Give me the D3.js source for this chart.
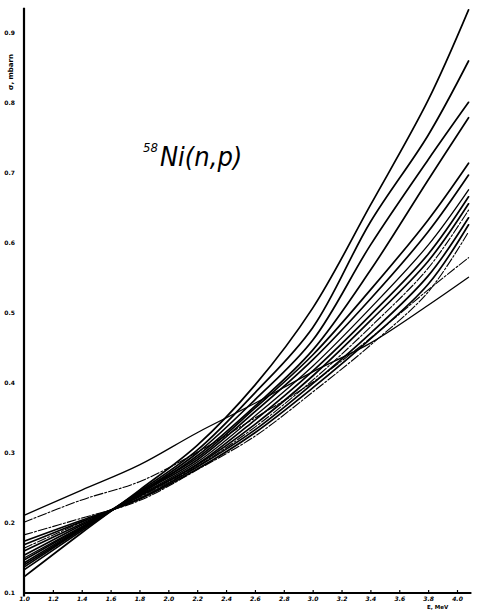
<!DOCTYPE html>
<html>
<head>
<meta charset="utf-8">
<script src="https://cdn.jsdelivr.net/npm/d3@7"></script>
<style>
  body { margin: 0; background: #fff; }
  svg { display: block; }
</style>
</head>
<body>
<svg id="fig" width="489" height="611"></svg>
<script>
const energies = [1.0, 1.4, 1.8, 2.2, 2.6, 3.0, 3.4, 3.8, 4.08];

// evaluated excitation curves
const curve01 = [1.11, 1.47, 1.83, 2.29, 2.71, 3.16, 3.57, 4.11, 4.51];
const curve02 = [1.01, 1.33, 1.59, 2.01, 2.50, 3.01, 3.64, 4.33, 4.79];
const curve03 = [0.83, 1.07, 1.32, 1.76, 2.24, 2.87, 3.54, 4.30, 5.16];
const curve04 = [0.74, 1.04, 1.34, 1.77, 2.29, 2.93, 3.63, 4.41, 5.26];
const curve05 = [0.69, 1.02, 1.35, 1.80, 2.33, 2.99, 3.71, 4.53, 5.36];
const curve06 = [0.64, 1.01, 1.37, 1.81, 2.37, 3.04, 3.80, 4.64, 5.47];
const curve07 = [0.60, 0.99, 1.38, 1.83, 2.41, 3.10, 3.89, 4.74, 5.56];
const curve08 = [0.54, 0.97, 1.39, 1.84, 2.47, 3.17, 3.97, 4.84, 5.66];
const curve09 = [0.50, 0.95, 1.40, 1.87, 2.53, 3.24, 4.07, 4.97, 5.76];
const curve10 = [0.43, 0.93, 1.42, 1.90, 2.59, 3.33, 4.20, 5.16, 5.97];
const curve11 = [0.37, 0.91, 1.44, 1.93, 2.64, 3.40, 4.33, 5.33, 6.14];
const curve12 = [0.47, 0.94, 1.41, 1.96, 2.67, 3.47, 4.61, 5.90, 6.79];
const curve13 = [0.40, 0.92, 1.43, 2.00, 2.76, 3.61, 4.97, 6.19, 7.01];
const curve14 = [0.33, 0.89, 1.45, 2.04, 2.86, 3.79, 5.30, 6.54, 7.60];
const curve15 = [0.23, 0.86, 1.47, 2.11, 2.97, 4.07, 5.54, 7.04, 8.33];

const curves = [curve01, curve02, curve03, curve04, curve05, curve06, curve07, curve08,
                curve09, curve10, curve11, curve12, curve13, curve14, curve15];
// line style per curve
const curveStyles = ["thin", "dashdot", "dashdot", "solid", "solid", "dashdot", "solid", "solid",
                     "thin", "solid", "solid", "solid", "solid", "solid", "solid"];

const xTicks = d3.range(16).map(i => 1.0 + i * 0.2);
const xTickLabels = xTicks.map(v => v.toFixed(1));
const yTicks = [0, 1, 2, 3, 4, 5, 6, 7, 8];
const yTickLabels = ["0.1", "0.2", "0.3", "0.4", "0.5", "0.6", "0.7", "0.8", "0.9"];

const svg = d3.select("#fig");

const x = d3.scaleLinear().domain([1.0, 4.0]).range([24, 457]);
const y = d3.scaleLinear().domain([0, 8]).range([593, 33]);

const xAxis = d3.axisBottom(x)
    .tickValues(xTicks)
    .tickFormat((d, i) => xTickLabels[i])
    .tickSize(3)
    .tickPadding(1);

const yAxis = d3.axisLeft(y)
    .tickValues(yTicks)
    .tickFormat((d, i) => yTickLabels[i])
    .tickSize(0)
    .tickPadding(9);

const gx = svg.append("g")
    .attr("transform", `translate(0,${593})`)
    .call(xAxis);
gx.select(".domain").remove();
gx.selectAll("line").attr("stroke", "#000").attr("stroke-width", 1.2).attr("transform", "translate(0,-3)");
gx.selectAll("text")
    .attr("fill", "#000")
    .style("font-family", "DejaVu Sans")
    .style("font-size", "6px")
    .style("font-weight", "bold")
    .style("font-style", "italic");

const gy = svg.append("g")
    .attr("transform", `translate(24,0)`)
    .call(yAxis);
gy.select(".domain").remove();
gy.selectAll("text")
    .attr("fill", "#000")
    .style("font-family", "DejaVu Sans")
    .style("font-size", "6px")
    .style("font-weight", "bold");

// axis lines
svg.append("line")
    .attr("x1", x(1.0)).attr("x2", x(1.0))
    .attr("y1", y(8.36)).attr("y2", y(-0.05))
    .attr("stroke", "#000").attr("stroke-width", 2.2);
svg.append("line")
    .attr("x1", x(1.0)).attr("x2", x(4.1))
    .attr("y1", y(0)).attr("y2", y(0))
    .attr("stroke", "#000").attr("stroke-width", 1.8);

// axis titles
svg.append("text")
    .attr("transform", `translate(${13},${72}) rotate(-90)`)
    .attr("text-anchor", "middle")
    .text("σ, mbarn")
    .attr("fill", "#000")
    .style("font-family", "DejaVu Sans")
    .style("font-size", "7px")
    .style("font-weight", "bold");

svg.append("text")
    .attr("x", 427)
    .attr("y", 609)
    .text("E, MeV")
    .attr("fill", "#000")
    .style("font-family", "DejaVu Sans")
    .style("font-size", "5.5px")
    .style("font-weight", "bold");

// curves
const line = d3.line()
    .x((d, i) => x(energies[i]))
    .y(d => y(d))
    .curve(d3.curveCatmullRom.alpha(0.5));

curves.forEach((c, k) => {
    const style = curveStyles[k];
    svg.append("path")
        .datum(c)
        .attr("d", line)
        .attr("fill", "none")
        .attr("stroke", "#000")
        .attr("stroke-width", style === "solid" ? 1.7 : (style === "thin" ? 1.3 : 1.1))
        .attr("stroke-dasharray", style === "dashdot" ? "9,2,2,2" : null)
        .attr("stroke-linecap", "round");
});

// reaction label
const lab = svg.append("text")
    .attr("x", 143)
    .attr("y", 166)
    .attr("fill", "#000")
    .style("font-family", "DejaVu Sans")
    .style("font-style", "italic")
    .style("font-stretch", "condensed");
lab.append("tspan")
    .text("58")
    .style("font-size", "13px")
    .attr("dy", -14);
lab.append("tspan")
    .text("Ni(n,p)")
    .style("font-size", "27px")
    .attr("dx", 2)
    .attr("dy", 14);
</script>
</body>
</html>
